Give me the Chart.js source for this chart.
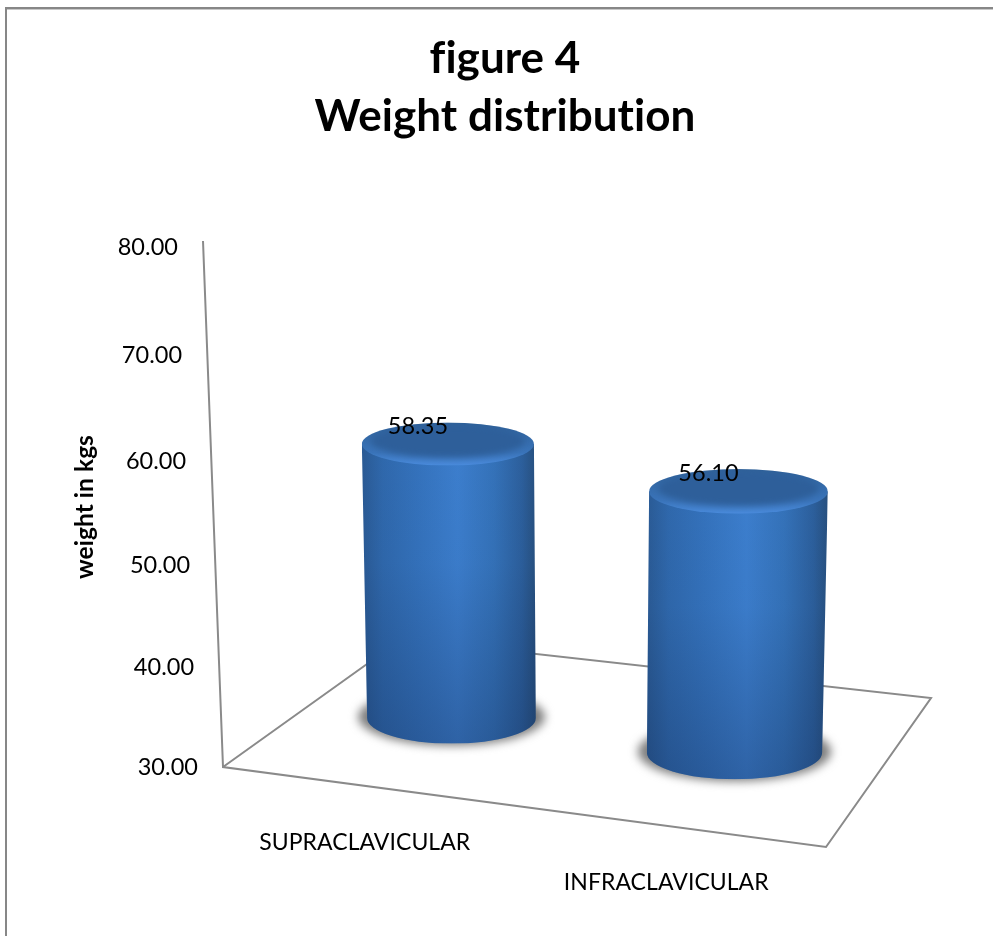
<!DOCTYPE html>
<html>
<head>
<meta charset="utf-8">
<title>figure 4</title>
<style>
  html, body { margin: 0; padding: 0; background: #fff; }
  canvas { display: block; }
</style>
<script src="https://cdn.jsdelivr.net/npm/chart.js@4/dist/chart.umd.js"></script>
</head>
<body>
<canvas id="chart" width="993" height="936"></canvas>
<script>
const categories = ['SUPRACLAVICULAR', 'INFRACLAVICULAR'];
const weights = [58.35, 56.10];
const yTickLabels = ['30.00', '40.00', '50.00', '60.00', '70.00', '80.00'];
const titleLines = ['figure 4', 'Weight distribution'];
const yAxisTitle = 'weight in kgs';

const fontName = 'Lato, "Open Sans", sans-serif';
const lineGray = '#8a8a8a';

// the 3D look: the y axis leans back and its steps shrink slightly towards the bottom
class LeaningY extends Chart.registry.getScale('linear') {
  getPixelForValue(value) {
    const t = (value - this.min) / (this.max - this.min);
    return this.bottom - this.height * (0.952 * t + 0.048 * t * t);
  }
  _computeLabelItems(area) {
    const items = super._computeLabelItems(area);
    items.forEach(item => {
      const y = item.options.translation[1];
      item.options.translation[0] -= (this.bottom - y) * 20 / this.height;
    });
    return items;
  }
}
LeaningY.id = 'leaningY';
LeaningY.defaults = Chart.registry.getScale('linear').defaults;

// category labels follow the slanted front edge of the floor
class SlantedX extends Chart.registry.getScale('category') {
  _computeLabelItems(area) {
    const items = super._computeLabelItems(area);
    items.forEach(item => {
      const x = item.options.translation[0];
      const u = (x - this.left) / this.width;
      item.options.translation[0] = x - 9;
      item.options.translation[1] += 80 * u;
    });
    return items;
  }
}
SlantedX.id = 'slantedX';
SlantedX.defaults = Chart.registry.getScale('category').defaults;

Chart.register(LeaningY, SlantedX);

function floorCorners(area) {
  return {
    a: [area.left, area.bottom],
    f: [area.right, area.bottom + 80],
    b: [area.left + 179, area.bottom - 128],
    r: [area.right + 105, area.bottom - 69]
  };
}

function drawCylinder(ctx, c) {
  // ground shadow
  ctx.save();
  ctx.filter = 'blur(5px)';
  ctx.fillStyle = '#7d7d7d';
  ctx.beginPath();
  ctx.ellipse(c.fx, c.fy - 1, c.frx + 9, c.fry + 3, 0, 0, Math.PI * 2);
  ctx.fill();
  ctx.restore();

  // side
  ctx.save();
  ctx.beginPath();
  ctx.moveTo(c.tx - c.trx, c.ty);
  ctx.lineTo(c.fx - c.frx, c.fy);
  ctx.ellipse(c.fx, c.fy, c.frx, c.fry, 0, Math.PI, 0, true);
  ctx.lineTo(c.tx + c.trx, c.ty);
  ctx.closePath();
  ctx.clip();
  const left = Math.min(c.tx - c.trx, c.fx - c.frx);
  const right = Math.max(c.tx + c.trx, c.fx + c.frx);
  const side = ctx.createLinearGradient(left, 0, right, 0);
  side.addColorStop(0, '#2a5a94');
  side.addColorStop(0.12, '#2f68ac');
  side.addColorStop(0.32, '#3472bc');
  side.addColorStop(0.55, '#3c7ecd');
  side.addColorStop(0.76, '#3472b9');
  side.addColorStop(0.92, '#2c5f9c');
  side.addColorStop(1, '#27507f');
  ctx.fillStyle = side;
  ctx.fillRect(left, c.ty - c.try, right - left, c.fy - c.ty + c.fry + c.try);
  const shade = ctx.createLinearGradient(0, c.ty, 0, c.fy + c.fry);
  shade.addColorStop(0, 'rgba(15,35,75,0)');
  shade.addColorStop(0.4, 'rgba(15,35,75,0.03)');
  shade.addColorStop(1, 'rgba(15,35,75,0.3)');
  ctx.fillStyle = shade;
  ctx.fillRect(left, c.ty - c.try, right - left, c.fy - c.ty + c.fry + c.try);
  ctx.restore();

  // top with its bevelled rim
  ctx.save();
  ctx.beginPath();
  ctx.ellipse(c.tx, c.ty, c.trx, c.try, 0, 0, Math.PI * 2);
  ctx.clip();
  const rim = ctx.createLinearGradient(0, c.ty - c.try, 0, c.ty + c.try);
  rim.addColorStop(0, '#2f6198');
  rim.addColorStop(0.7, '#3a74ba');
  rim.addColorStop(1, '#4a8bdc');
  ctx.fillStyle = rim;
  ctx.fillRect(c.tx - c.trx, c.ty - c.try, c.trx * 2, c.try * 2);
  ctx.filter = 'blur(3px)';
  ctx.fillStyle = '#2e5f9a';
  ctx.beginPath();
  ctx.ellipse(c.tx, c.ty - 3, c.trx - 9, c.try - 5, 0, 0, Math.PI * 2);
  ctx.fill();
  ctx.restore();
}

const cylinders = {
  id: 'cylinders',
  beforeDraw(chart) {
    const ctx = chart.ctx;
    // a tiny letter spacing stops the browser joining "fi" and "ti" into ligatures
    ctx.letterSpacing = '0.05px';
    ctx.save();
    // outer frame, only top and left show in the picture
    ctx.fillStyle = '#878787';
    ctx.fillRect(5, 7, 988, 2);
    ctx.fillRect(5, 7, 2, 929);
    ctx.fillStyle = '#c8c8c8';
    ctx.fillRect(7, 9, 986, 1);
    ctx.restore();
  },
  beforeDatasetsDraw(chart) {
    const ctx = chart.ctx;
    const area = chart.chartArea;
    const { a, f, b, r } = floorCorners(area);

    ctx.save();
    ctx.strokeStyle = lineGray;
    ctx.lineWidth = 2;
    ctx.lineJoin = 'miter';
    ctx.beginPath();
    ctx.moveTo(a[0] - 20, area.top - 6);
    ctx.lineTo(a[0], a[1]);
    ctx.lineTo(f[0], f[1]);
    ctx.lineTo(r[0], r[1]);
    ctx.lineTo(b[0], b[1]);
    ctx.lineTo(a[0], a[1]);
    ctx.stroke();
    ctx.restore();

    const meta = chart.getDatasetMeta(0);
    meta.data.forEach(bar => {
      const u = (bar.x - area.left) / area.width;
      // foot sits halfway into the floor depth
      const fx = (a[0] + (f[0] - a[0]) * u + b[0] + (r[0] - b[0]) * u) / 2 - 2.5;
      const fy = (a[1] + (f[1] - a[1]) * u + b[1] + (r[1] - b[1]) * u) / 2 - 2.5;
      const persp = 1 - (area.bottom - fy) * 0.00105;
      const h = (area.bottom - bar.y) * persp;
      const frx = bar.width / 2 * persp;
      const trx = frx * 1.02;
      const tx = fx + (fx - 583) * h * 0.0001;
      drawCylinder(ctx, {
        fx, fy, frx, fry: frx * 0.305,
        tx, ty: fy - h,
        trx, try: trx * 0.25
      });
      bar.$top = { x: tx, y: fy - h };
    });
  },
  afterDatasetsDraw(chart) {
    const ctx = chart.ctx;
    const meta = chart.getDatasetMeta(0);
    ctx.save();
    ctx.fillStyle = '#000';
    ctx.font = '23.5px ' + fontName;
    ctx.textAlign = 'center';
    ctx.textBaseline = 'middle';
    meta.data.forEach((bar, i) => {
      ctx.fillText(weights[i].toFixed(2), bar.$top.x - 30, bar.$top.y - 18);
    });
    ctx.restore();
  }
};

new Chart(document.getElementById('chart'), {
  type: 'bar',
  data: {
    labels: categories,
    datasets: [{
      data: weights,
      backgroundColor: 'rgba(0,0,0,0)',
      borderWidth: 0,
      categoryPercentage: 1,
      barPercentage: 0.59
    }]
  },
  options: {
    responsive: false,
    animation: false,
    events: [],
    layout: { padding: { left: 17, right: 0, top: 0, bottom: 0 } },
    plugins: {
      legend: { display: false },
      tooltip: { enabled: false },
      title: {
        display: true,
        text: titleLines,
        color: '#000',
        font: { family: fontName, size: 44, weight: 'bold', lineHeight: 1.318 },
        padding: { top: 30, bottom: 101 }
      }
    },
    scales: {
      x: {
        type: 'slantedX',
        grid: { display: false },
        border: { display: false },
        ticks: {
          color: '#000',
          font: { family: fontName, size: 23 },
          padding: 34,
          maxRotation: 0,
          autoSkip: false
        },
        afterFit: s => { s.height = 169; }
      },
      y: {
        type: 'leaningY',
        min: 30,
        max: 80,
        grid: { display: false },
        border: { display: false },
        ticks: {
          stepSize: 10,
          color: '#000',
          font: { family: fontName, size: 23.5 },
          padding: 17,
          callback: (v, i) => yTickLabels[i]
        },
        title: {
          display: true,
          text: yAxisTitle,
          color: '#000',
          font: { family: fontName, size: 24.5, weight: 'bold' },
          padding: { top: 53, bottom: 0 }
        },
        afterFit: s => { s.width = 206; }
      },
      // empty right hand box, keeps the plot clear of the floor corner while the title stays centred on the page
      spacer: {
        type: 'linear',
        position: 'right',
        grid: { display: false },
        border: { display: false },
        ticks: { display: false },
        afterFit: s => { s.width = 167; }
      }
    }
  },
  plugins: [cylinders]
});
</script>
</body>
</html>
